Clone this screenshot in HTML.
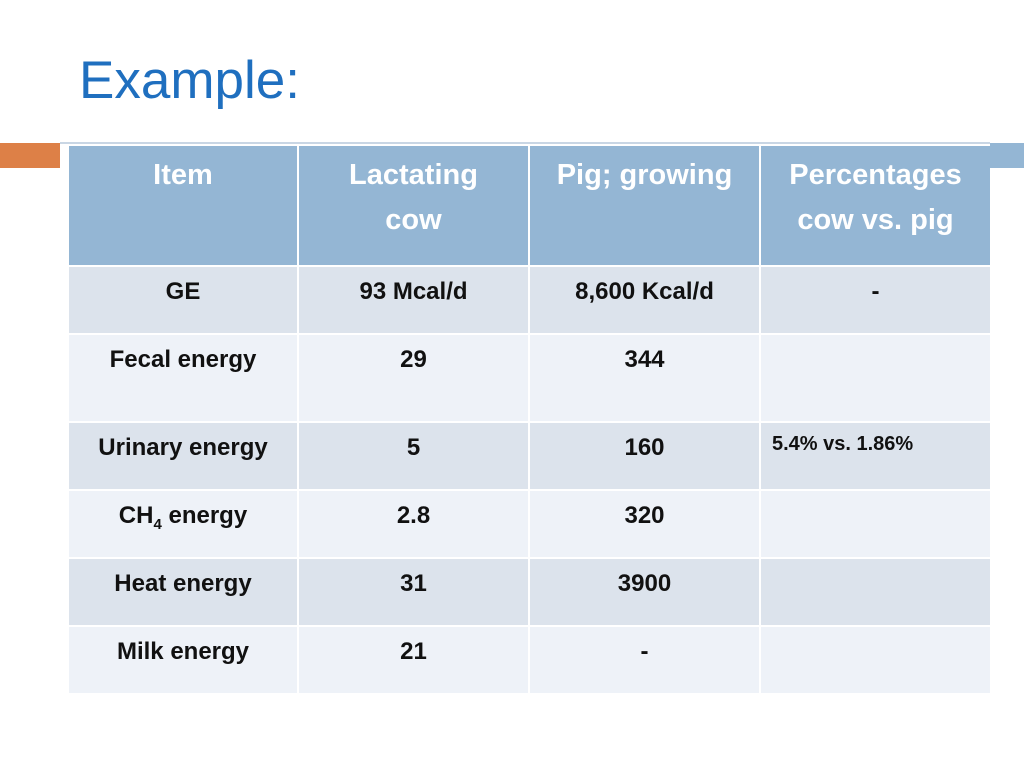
<!DOCTYPE html>
<html><head><meta charset="utf-8"><style>
body{margin:0;width:1024px;height:768px;background:#fff;position:relative;overflow:hidden;font-family:"Liberation Sans",sans-serif}
.abs{position:absolute}
table{position:absolute;left:67px;top:144px;border-collapse:separate;border-spacing:2px}
td{padding:0;vertical-align:top;text-align:center;font-weight:bold;font-size:24px;color:#111}
th{padding:0;vertical-align:top;text-align:center;font-weight:bold;font-size:29px;color:#fff;background:#94b6d4;line-height:45px;padding-top:7px}
tr.d td{background:#dce3ec}
tr.l td{background:#eef2f8}
td{padding-top:11px}
</style></head><body>
<div class="abs" style="left:79px;top:50px;font-size:53px;color:#1f6fbf">Example:</div>
<div class="abs" style="left:0;top:143px;width:60px;height:25px;background:#dd8047"></div>
<div class="abs" style="left:60px;top:142px;width:930px;height:2px;background:#c9d6e4"></div>
<div class="abs" style="left:990px;top:143px;width:34px;height:25px;background:#94b6d4"></div>
<table>
<tr style="height:119px">
<th style="width:228px">Item</th>
<th style="width:229px">Lactating<br>cow</th>
<th style="width:229px">Pig; growing</th>
<th style="width:229px">Percentages<br>cow vs. pig</th>
</tr>
<tr class="d" style="height:66px"><td>GE</td><td>93 Mcal/d</td><td>8,600 Kcal/d</td><td>-</td></tr>
<tr class="l" style="height:86px"><td>Fecal energy</td><td>29</td><td>344</td><td></td></tr>
<tr class="d" style="height:66px"><td>Urinary energy</td><td>5</td><td>160</td><td style="text-align:left;font-size:20px;padding-left:11px;padding-top:10px">5.4% vs. 1.86%</td></tr>
<tr class="l" style="height:66px"><td>CH<sub style="font-size:15px">4</sub> energy</td><td>2.8</td><td>320</td><td></td></tr>
<tr class="d" style="height:66px"><td>Heat energy</td><td>31</td><td>3900</td><td></td></tr>
<tr class="l" style="height:66px"><td>Milk energy</td><td>21</td><td>-</td><td></td></tr>
</table>
</body></html>
